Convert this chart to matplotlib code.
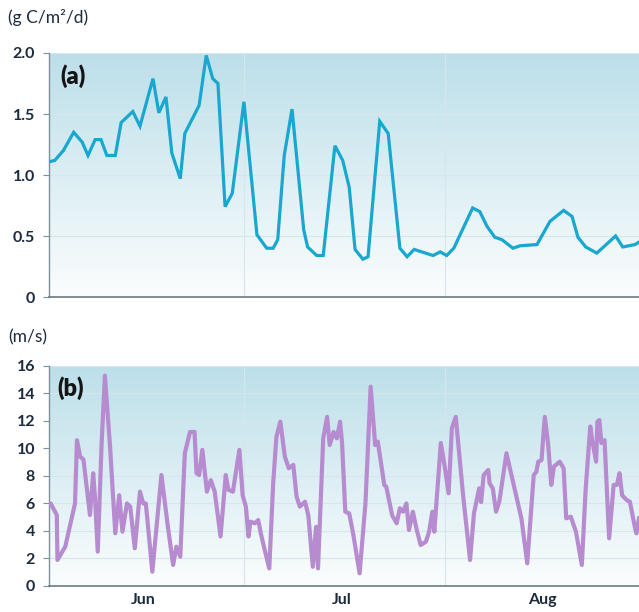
import numpy as np
import matplotlib
matplotlib.use('Agg')
from matplotlib import pyplot as plt

# days since 1 June
prod_day = [0.15, 0.9, 2.2, 3.8, 5.1, 6.0, 7.1, 8.0, 8.9, 10.2, 11.1, 12.9, 14.0, 16.0,
            16.9, 18.0, 18.9, 20.2, 20.9, 23.1, 24.2, 25.2, 26.0, 27.1, 28.2, 30.0,
            32.0, 33.5, 34.5, 35.2, 36.2, 37.4, 39.2, 39.8, 41.2, 42.2, 44.0, 45.2,
            46.2, 47.1, 48.3, 49.1, 50.9, 52.2, 54.0, 55.1, 56.2, 59.1, 60.2, 61.2,
            62.3, 65.2, 66.3, 67.4, 68.6, 69.7, 71.4, 72.5, 75.1, 77.1, 79.2, 80.5,
            81.4, 82.6, 84.3, 87.2, 88.3, 90.2, 90.8]
prod = [1.11, 1.12, 1.20, 1.35, 1.27, 1.16, 1.29, 1.29, 1.16, 1.16, 1.43, 1.52, 1.40, 1.79,
        1.51, 1.64, 1.18, 0.97, 1.34, 1.57, 1.98, 1.79, 1.75, 0.74, 0.85, 1.60,
        0.51, 0.40, 0.40, 0.47, 1.16, 1.54, 0.55, 0.41, 0.34, 0.34, 1.24, 1.12,
        0.90, 0.39, 0.31, 0.33, 1.44, 1.34, 0.40, 0.33, 0.39, 0.34, 0.37, 0.34,
        0.40, 0.73, 0.70, 0.58, 0.49, 0.47, 0.40, 0.42, 0.43, 0.62, 0.71, 0.66,
        0.49, 0.41, 0.36, 0.50, 0.41, 0.43, 0.45]

wind_day = [0.3, 1.2, 1.3, 2.5, 4.0, 4.3, 4.8, 5.3, 6.3, 6.8, 7.1, 7.5, 8.1, 8.6, 9.4,
            10.2, 10.8, 11.3, 12.0, 12.5, 13.2, 14.0, 14.5, 14.9, 15.9, 17.3, 18.3,
            19.1, 19.6, 20.2, 20.9, 21.7, 22.4, 22.7, 23.1, 23.6, 24.3, 24.9, 25.5,
            26.4, 27.2, 27.6, 28.3, 29.3, 29.8, 30.3, 30.7, 31.0, 31.7, 32.2, 32.6,
            33.2, 33.9, 34.5, 35.0, 35.6, 36.3, 36.9, 37.6, 38.1, 38.6, 39.4, 39.9,
            40.6, 41.1, 41.4, 42.2, 42.8, 43.2, 43.8, 44.3, 44.8, 45.1, 45.6, 46.2,
            46.8, 47.8, 48.7, 49.5, 50.2, 50.6, 51.6, 51.9, 52.8, 53.5, 54.0, 54.5,
            55.0, 55.4, 56.0, 56.6, 57.2, 58.0, 58.5, 59.0, 59.3, 60.3, 60.9, 61.5,
            62.0, 62.6, 63.7, 64.8, 65.4, 66.2, 66.5, 66.9, 67.6, 67.8, 68.3, 68.8,
            69.3, 70.4, 71.4, 72.4, 72.7, 73.6, 74.6, 75.0, 75.3, 75.8, 76.3, 76.8,
            77.3, 77.7, 78.6, 79.2, 79.6, 80.3, 81.1, 82.0, 82.6, 83.3, 83.6, 84.2,
            84.4, 84.7, 85.0, 85.5, 86.2, 86.9, 87.4, 87.8, 88.2, 88.9, 89.4, 90.2,
            90.4, 90.8]
wind = [5.96, 5.16, 1.89, 2.86, 6.0, 10.6, 9.4, 9.2, 5.16, 8.2, 6.25, 2.5, 10.4, 15.3, 10.1,
        3.83, 6.6, 3.95, 6.0, 5.77, 2.74, 6.86, 6.0, 6.0, 1.04, 8.07, 4.3,
        1.53, 2.86, 2.13, 9.65, 11.2, 11.2, 8.2, 8.07, 9.9, 6.86, 7.7, 6.86,
        3.6, 8.07, 7.0, 6.86, 9.9, 6.6, 5.77, 3.6, 4.68, 4.56, 4.8, 3.83,
        2.62, 1.28, 7.47, 10.86, 11.95, 9.4, 8.56, 8.8, 6.5, 5.77, 6.13, 5.16,
        1.4, 4.3, 1.28, 10.74, 12.3, 10.25, 11.2, 10.74, 11.95, 10.4, 5.4, 5.28,
        3.83, 0.92, 6.0, 14.5, 10.25, 10.5, 7.35, 7.22, 5.16, 4.56, 5.65, 5.4,
        6.0, 4.07, 5.4, 4.07, 2.98, 3.22, 3.95, 5.4, 3.95, 10.4, 8.68, 6.74,
        11.47, 12.3, 6.74, 1.89, 5.28, 7.1, 6.1, 8.07, 8.44, 7.47, 7.1, 5.4,
        6.13, 9.65, 7.6, 5.53, 4.92, 1.65, 8.07, 8.3, 9.04, 9.16, 12.3, 10.4,
        7.35, 8.68, 9.04, 8.56, 4.92, 5.04, 3.95, 1.53, 7.1, 11.6, 10.6, 9.04,
        11.95, 12.07, 10.4, 10.6, 3.47, 7.35, 7.35, 8.2, 6.6, 6.25, 6.13, 4.2,
        3.83, 4.92]

month_names = ['Jun', 'Jul', 'Aug']
month_len = [30, 31, 31]

txt = '#1c2a3c'
plt.rcParams['font.family'] = ['Lato', 'DejaVu Sans']

fig = plt.figure(figsize=(6.39, 6.12), dpi=100)
ax1 = fig.add_axes([0.0767, 0.5147, 0.9233, 0.3987])
ax2 = fig.add_axes([0.0767, 0.0425, 0.9233, 0.3595])

starts = np.cumsum([0] + month_len[:-1])
mids = starts + np.array(month_len) / 2.0 - 0.5
xmax = 90.8

grad = np.linspace(1, 0, 256).reshape(-1, 1)
from matplotlib.colors import LinearSegmentedColormap
bg = LinearSegmentedColormap.from_list('bg', ['#fbfdfd', '#bcdfea'])

for ax, top in [(ax1, 2.0), (ax2, 16)]:
    ax.imshow(grad, cmap=bg, extent=[0, xmax, 0, top], aspect='auto', zorder=0,
              vmin=0, vmax=1)
    ax.set_xlim(0, xmax)
    ax.set_ylim(0, top)
    for s in ['top', 'right']:
        ax.spines[s].set_visible(False)
    ax.spines['left'].set_color('#7f9099')
    ax.spines['bottom'].set_color('#6c7a82')
    ax.spines['left'].set_linewidth(1.0)
    ax.spines['bottom'].set_linewidth(1.2)
    ax.set_xticks(starts[1:])
    ax.tick_params(axis='x', length=0, labelbottom=False)
    ax.tick_params(axis='y', length=4, color='#7f9099', colors=txt, labelsize=11.5, pad=6)
    ax.grid(True, color='#d6e6ec', linewidth=0.8, zorder=1)
    for lab in ax.get_yticklabels():
        lab.set_fontweight('bold')

ax1.plot(prod_day, prod, color='#18a7cf', lw=2.3, zorder=3, solid_joinstyle='miter')
ax1.set_yticks([0, 0.5, 1.0, 1.5, 2.0])
ax1.set_yticklabels(['0', '0.5', '1.0', '1.5', '2.0'], fontweight='bold')

ax2.plot(wind_day, wind, color='#b78bcf', lw=3.0, zorder=3)
ax2.set_yticks(range(0, 17, 2))
ax2.set_yticklabels([str(v) for v in range(0, 17, 2)], fontweight='bold')
ax2.set_xticks(mids, minor=True)
ax2.set_xticklabels(month_names, minor=True, fontweight='bold', color=txt, fontsize=11.5)
ax2.tick_params(axis='x', which='minor', length=0, pad=5)

ax1.text(0.02, 0.905, '(a)', transform=ax1.transAxes, fontsize=17, fontweight='heavy',
         color='#151515', va='center')
ax2.text(0.015, 0.9, '(b)', transform=ax2.transAxes, fontsize=17, fontweight='heavy',
         color='#151515', va='center')

fig.text(0.013, 0.972, '(g C/m\u00b2/d)', fontsize=12.5, color=txt, va='center')
fig.text(0.013, 0.449, '(m/s)', fontsize=12.5, color=txt, va='center')

fig.savefig('out.png', dpi=100)
